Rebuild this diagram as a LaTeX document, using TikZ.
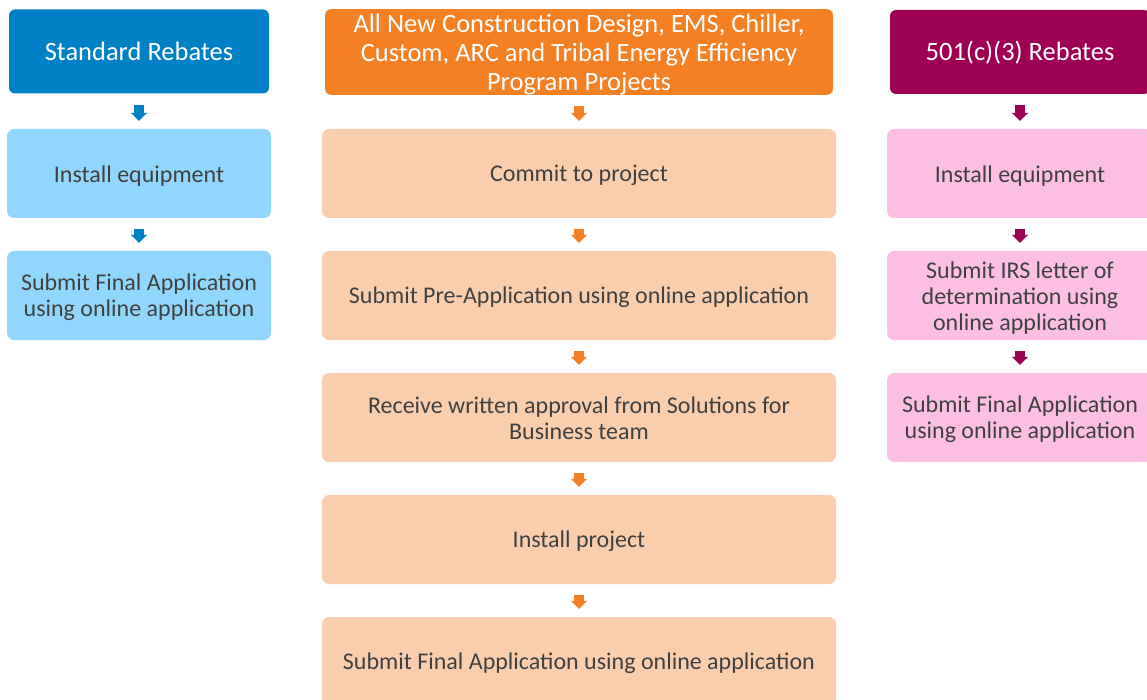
\documentclass[tikz,border=0pt]{standalone}
\usepackage{fontspec}
\setmainfont{Carlito}
\usetikzlibrary{arrows.meta}
\definecolor{hblue}{HTML}{0081C6}
\definecolor{lblue}{HTML}{91D7FD}
\definecolor{horange}{HTML}{F58024}
\definecolor{lorange}{HTML}{FACEAD}
\definecolor{hmag}{HTML}{9E0054}
\definecolor{lpink}{HTML}{FDBEE3}
\definecolor{txt}{HTML}{404040}
\newcommand{\tp}[1]{\rule{0pt}{#1pt}}
\tikzset{
  hdr/.style={rectangle, rounded corners=6pt, inner sep=0pt, minimum height=84pt, align=center, text=white, font=\fontsize{26.5}{29}\selectfont},
  stepbox/.style={rectangle, rounded corners=7pt, inner sep=0pt, minimum height=89pt, align=center, text=txt, font=\fontsize{24}{26}\selectfont},
  arr/.style={line width=10pt, -{Triangle[width=16pt,length=8pt]}, shorten <=11pt, shorten >=8pt}
}
\begin{document}
\begin{tikzpicture}[x=1pt,y=-1pt]
\useasboundingbox (0,0) rectangle (1147,700);
\clip (0,0) rectangle (1147,700);
\fill[white] (0,0) rectangle (1147,700);
% left column
\node[hdr, fill=hblue, minimum width=260pt] (L0) at (139,51.5) {Standard Rebates};
\node[stepbox, fill=lblue, minimum width=264pt] (L1) at (139,173.5) {\tp{21}Install equipment};
\node[stepbox, fill=lblue, minimum width=264pt] (L2) at (139,295.5) {\tp{21}Submit Final Application\\using online application};
% middle column
\node[hdr, fill=horange, minimum width=508pt] (M0) at (579,52) {\tp{23}All New Construction Design, EMS, Chiller,\\Custom, ARC and Tribal Energy Efficiency\\Program Projects};
\node[stepbox, fill=lorange, minimum width=514pt] (M1) at (579,173.5) {\tp{21}Commit to project};
\node[stepbox, fill=lorange, minimum width=514pt] (M2) at (579,295.5) {\tp{21}Submit Pre-Application using online application};
\node[stepbox, fill=lorange, minimum width=514pt] (M3) at (579,417.5) {\tp{19}Receive written approval from Solutions for\\Business team};
\node[stepbox, fill=lorange, minimum width=514pt] (M4) at (579,539.5) {\tp{21}Install project};
\node[stepbox, fill=lorange, minimum width=514pt] (M5) at (579,661.5) {\tp{21}Submit Final Application using online application};
% right column
\node[hdr, fill=hmag, minimum width=260pt] (R0) at (1020,52) {\tp{20.5}501(c)(3) Rebates};
\node[stepbox, fill=lpink, minimum width=266pt] (R1) at (1020,173.5) {\tp{21}Install equipment};
\node[stepbox, fill=lpink, minimum width=266pt] (R2) at (1020,295.5) {\tp{21}Submit IRS letter of\\determination using\\online application};
\node[stepbox, fill=lpink, minimum width=266pt] (R3) at (1020,417.5) {\tp{21}Submit Final Application\\using online application};
% arrows
\draw[arr, hblue] (L0.south) -- (L1.north);
\draw[arr, hblue] (L1.south) -- (L2.north);
\draw[arr, horange] (M0.south) -- (M1.north);
\draw[arr, horange] (M1.south) -- (M2.north);
\draw[arr, horange] (M2.south) -- (M3.north);
\draw[arr, horange] (M3.south) -- (M4.north);
\draw[arr, horange] (M4.south) -- (M5.north);
\draw[arr, hmag] (R0.south) -- (R1.north);
\draw[arr, hmag] (R1.south) -- (R2.north);
\draw[arr, hmag] (R2.south) -- (R3.north);
\end{tikzpicture}
\end{document}
